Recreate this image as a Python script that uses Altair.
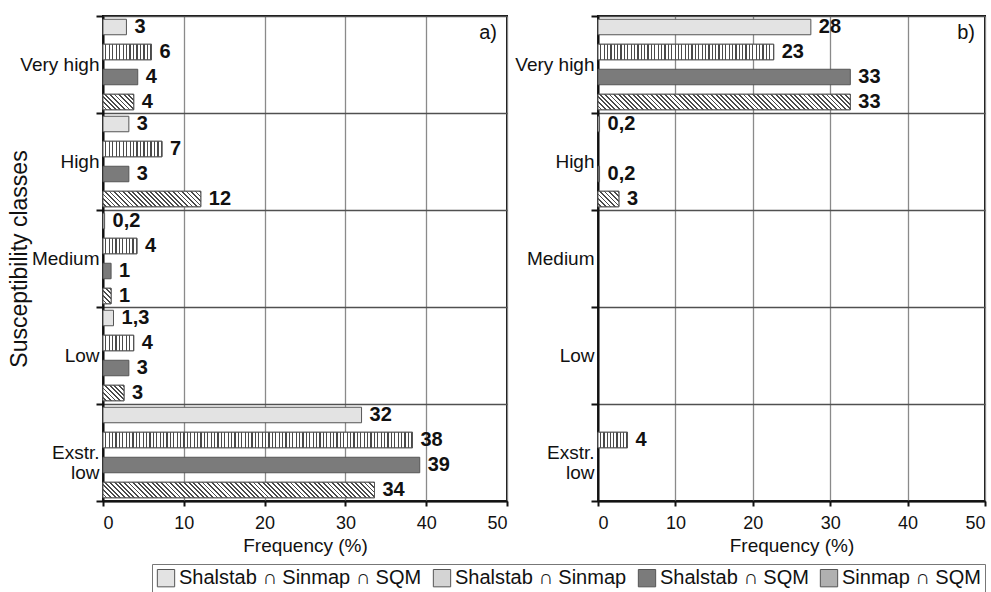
import altair as alt
import pandas as pd

classes = ["Very high", "High", "Medium", "Low", "Exstr. low"]
series = ["Shalstab ∩ Sinmap ∩ SQM", "Shalstab ∩ Sinmap", "Shalstab ∩ SQM", "Sinmap ∩ SQM"]

# panel a) values per class (order of series above)
a_values = [
    [2.9, 6.0, 4.3, 3.8],
    [3.2, 7.3, 3.2, 12.1],
    [0.2, 4.2, 1.0, 1.0],
    [1.3, 3.8, 3.2, 2.6],
    [32.0, 38.3, 39.2, 33.6],
]
a_labels = [
    ["3", "6", "4", "4"],
    ["3", "7", "3", "12"],
    ["0,2", "4", "1", "1"],
    ["1,3", "4", "3", "3"],
    ["32", "38", "39", "34"],
]
# panel b)
b_values = [
    [27.5, 22.7, 32.6, 32.6],
    [0.2, None, 0.2, 2.7],
    [None, None, None, None],
    [None, None, None, None],
    [None, 3.8, None, None],
]
b_labels = [
    ["28", "23", "33", "33"],
    ["0,2", "", "0,2", "3"],
    ["", "", "", ""],
    ["", "", "", ""],
    ["", "4", "", ""],
]

W_A, W_B, H = 404, 387, 485
BAR_H = 15.5
FONT = "Liberation Sans"
LIGHT, DARK = "#e3e3e3", "#7b7b7b"
HATCH_BG, HATCH_FG = "#ffffff", "#4a4a4a"
colors = [LIGHT, "#d4d4d4", DARK, "#b0b0b0"]


def stripes(n, frac):
    stops = []
    for k in range(n):
        a = k / n
        m = (k + 1 - frac) / n
        b = (k + 1) / n
        stops += [
            {"offset": a, "color": HATCH_BG},
            {"offset": m, "color": HATCH_BG},
            {"offset": m, "color": HATCH_FG},
            {"offset": b, "color": HATCH_FG},
        ]
    return stops


def vgrad(length):
    n = max(1, round(length / 3.4))
    return {"gradient": "linear", "x1": 0, "y1": 0, "x2": 1, "y2": 0, "stops": stripes(n, 0.35)}


def dgrad(length, h):
    r = h / max(length, 0.1)
    d = 1 + r * r
    n = max(1, round((length + h) / 4.6))
    return {"gradient": "linear", "x1": -r / d, "y1": r * r / d,
            "x2": 1 / d, "y2": -r / d, "stops": stripes(n, 0.4)}


def frame(values, labels):
    rows = []
    for ci, c in enumerate(classes):
        for si, s in enumerate(series):
            rows.append({"cls": c, "series": s, "cid": ci, "sid": si,
                         "value": values[ci][si], "label": labels[ci][si]})
    return pd.DataFrame(rows)


def panel(values, labels, width, tag, show_title):
    df = frame(values, labels)
    y = alt.Y("cls:N", sort=classes,
              scale=alt.Scale(domain=classes, paddingInner=0, paddingOuter=0),
              axis=alt.Axis(title="Susceptibility classes" if show_title else None,
                            tickBand="extent", grid=True, gridColor="#505050",
                            gridWidth=1.3, gridOpacity=1,
                            tickColor="#111", tickWidth=2, tickSize=7,
                            labelPadding=-3, domain=True, domainColor="#111",
                            domainWidth=2,
                            labelExpr="datum.label == 'Exstr. low' ? ['Exstr.', 'low'] : datum.label",
                            labelFont=FONT, labelFontSize=19, labelColor="#111",
                            labelLineHeight=20,
                            titleFont=FONT, titleFontSize=23, titleFontWeight="normal",
                            titleColor="#111", titlePadding=-12))
    yo = alt.YOffset("series:N", sort=series,
                     scale=alt.Scale(domain=series, paddingInner=0.38, paddingOuter=0.13))
    x = alt.X("value:Q", scale=alt.Scale(domain=[0, 50], nice=False),
              axis=alt.Axis(values=[0, 10, 20, 30, 40, 50], title="Frequency (%)",
                            grid=True, gridColor="#8a8a8a", gridWidth=1.3,
                            tickColor="#111", tickWidth=2, tickSize=5,
                            domainColor="#111", domainWidth=2,
                            labelFont=FONT, labelFontSize=18, labelColor="#111",
                            labelPadding=8,
                            titleFont=FONT, titleFontSize=19, titleFontWeight="normal",
                            titleColor="#111", titlePadding=4))
    base = alt.Chart(df)
    bars = base.transform_filter("isValid(datum.value)").mark_bar(
        stroke="#555", strokeWidth=1).encode(
        y=y, yOffset=yo, x=x,
        color=alt.Color("series:N", sort=series,
                        scale=alt.Scale(domain=series, range=colors),
                        legend=alt.Legend(
                            title=None, orient="none", direction="horizontal",
                            legendX=152 - 103, legendY=562 - 14,
                            symbolType="square", symbolSize=300,
                            symbolStrokeColor="#555", symbolStrokeWidth=1,
                            symbolOpacity=1, labelLimit=0,
                            labelFont=FONT, labelFontSize=20, labelColor="#111",
                            columnPadding=9, labelOffset=3,
                            padding=4, strokeColor="#777", fillColor="#ffffff")))
    layers = [bars]
    for ci, c in enumerate(classes):
        for si in (1, 3):
            v = values[ci][si]
            if v is None:
                continue
            length = v / 50 * width
            grad = vgrad(length) if si == 1 else dgrad(length, BAR_H)
            layers.append(
                base.transform_filter(f"datum.cid == {ci} && datum.sid == {si}")
                .mark_bar(color=grad, stroke="#555", strokeWidth=1)
                .encode(y=y, yOffset=yo, x=x))
    text = base.transform_filter("datum.label != ''").mark_text(
        align="left", baseline="middle", dx=8, font=FONT, fontSize=20,
        fontWeight="bold", color="#111").encode(
        y=y, yOffset=yo, x=alt.X("value:Q"), text="label:N")
    layers.append(text)
    tag_mark = alt.Chart(pd.DataFrame({"t": [tag]})).mark_text(
        align="right", baseline="middle", font=FONT, fontSize=20, color="#111").encode(
        x=alt.value(width - 10), y=alt.value(17), text="t:N")
    layers.append(tag_mark)
    return alt.layer(*layers).properties(width=width, height=H)


pa = panel(a_values, a_labels, W_A, "a)", True)
pb = panel(b_values, b_labels, W_B, "b)", False)

chart = alt.hconcat(pa, pb, spacing=4).properties(
    padding={"left": 7, "top": 6, "right": 2, "bottom": 2}
).configure_view(stroke="#111", strokeWidth=2).resolve_scale(color="shared")

chart.save("out.html", embed_options={"renderer": "svg", "actions": False})
